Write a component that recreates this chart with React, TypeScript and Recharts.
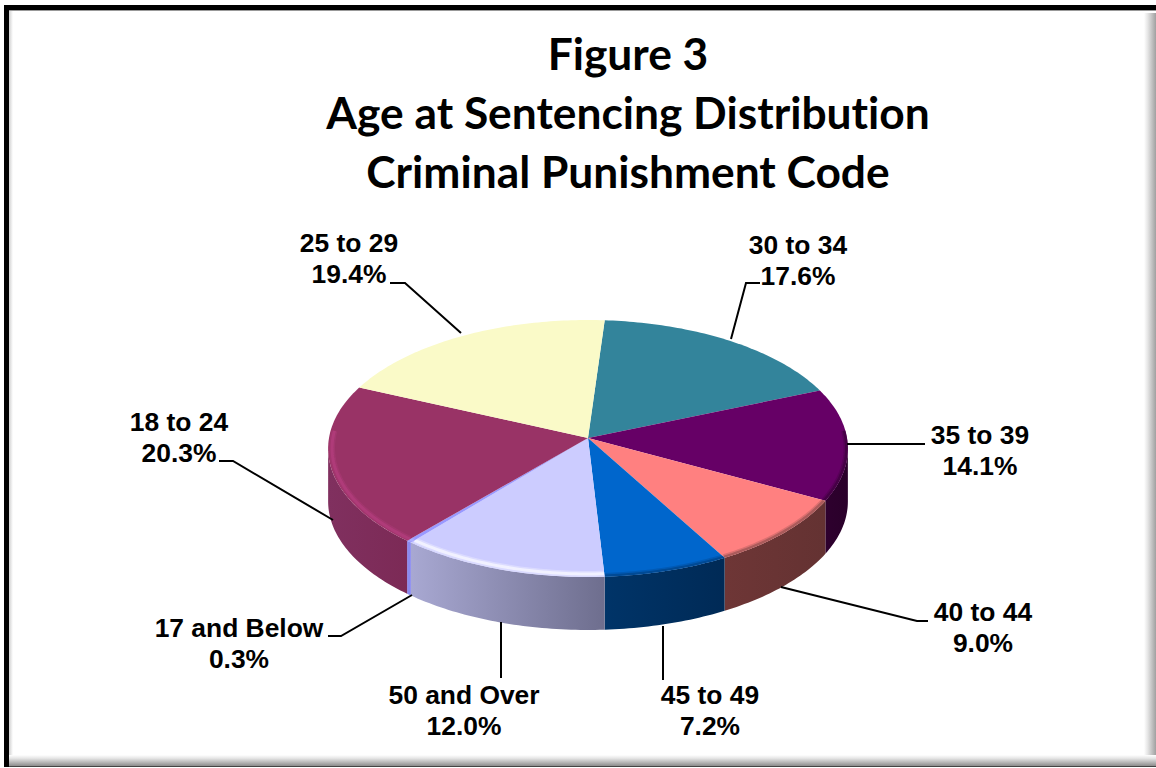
import React from 'react';
import { PieChart, Pie } from 'recharts';

const WIDTH = 1156;
const HEIGHT = 768;

const titleLines = ['Figure 3', 'Age at Sentencing Distribution', 'Criminal Punishment Code'];

// clockwise, starting from the slice just right of the top
const ageGroups = ['30 to 34', '35 to 39', '40 to 44', '45 to 49', '50 and Over', '17 and Below', '18 to 24', '25 to 29'];
const shares = [17.6, 14.1, 9.0, 7.2, 12.0, 0.3, 20.3, 19.4];

const topColors = ['#33849b', '#660066', '#ff8080', '#0066cc', '#ccccff', '#9999ff', '#993366', '#fafac8'];
const rimColors = ['#33849b', '#3a003a', '#8a4c4c', '#003f80', '#ffffff', '#b4b4ff', '#b83f80', '#fafac8'];
const rimRadius = [0.99, 0.995, 0.995, 0.995, 0.98, 0.985, 0.985, 0.99];
const wallLeft = ['#33849b', '#2e002e', '#6e3636', '#003468', '#a8a8d2', '#8a8af0', '#80305f', '#fafac8'];
const wallRight = ['#33849b', '#2a002a', '#643232', '#002a56', '#6e6e8e', '#8a8af0', '#7c2a56', '#fafac8'];

// label centre, then the leader line from the pie outwards
const labelLayout: Record<string, { x: number; y: number; line: number[][] }> = {
  '30 to 34': { x: 798, y: 245, line: [[731, 339], [746, 283], [760, 283]] },
  '35 to 39': { x: 980, y: 435, line: [[847, 444], [925, 444]] },
  '40 to 44': { x: 983, y: 612, line: [[781, 587], [917, 621], [928, 621]] },
  '45 to 49': { x: 710, y: 695, line: [[663, 626], [663, 680]] },
  '50 and Over': { x: 464, y: 695, line: [[501, 622], [501, 678]] },
  '17 and Below': { x: 239, y: 628, line: [[412, 595], [341, 636], [328, 636]] },
  '18 to 24': { x: 179, y: 422, line: [[333, 520], [233, 461], [219, 461]] },
  '25 to 29': { x: 349, y: 243, line: [[390, 283], [405, 283], [461, 333]] },
};

const data = ageGroups.map((name, i) => ({ name, value: shares[i], fill: topColors[i], index: i }));

const TILT = 0.4927;
const PERSPECTIVE = 0.0817;
const DEPTH = 53;
const WALL_FROM = 94.7;
const WALL_TO = 265.3;

// phi is degrees clockwise from the top of the pie
const project = (cx: number, cy: number, R: number, phi: number, r = 1) => {
  const rad = (phi * Math.PI) / 180;
  const u = r * Math.sin(rad);
  const v = -r * Math.cos(rad);
  const d = 1 - PERSPECTIVE * v;
  return [cx + (R * u) / d, cy + (R * TILT * v) / d];
};

const arcPoints = (cx: number, cy: number, R: number, from: number, to: number, r = 1) => {
  const pts: number[][] = [];
  const steps = Math.max(2, Math.ceil(to - from));
  for (let i = 0; i <= steps; i++) pts.push(project(cx, cy, R, from + ((to - from) * i) / steps, r));
  return pts;
};

const toPath = (pts: number[][]) => pts.map((p, i) => `${i ? 'L' : 'M'}${p[0].toFixed(2)},${p[1].toFixed(2)}`).join(' ');

const TiltedSlice = (props: any) => {
  const { cx, cy, outerRadius: R, startAngle, endAngle, index } = props;
  const from = 90 - startAngle;
  const to = 90 - endAngle;
  const top = `${toPath([[cx, cy], ...arcPoints(cx, cy, R, from, to)])} Z`;

  const wFrom = Math.max(from, WALL_FROM);
  const wTo = Math.min(to, WALL_TO);
  const hasWall = wTo > wFrom;
  const edge = hasWall ? arcPoints(cx, cy, R, wFrom, wTo) : [];
  const lower = edge.map(p => [p[0], p[1] + DEPTH]).reverse();

  const rFrom = Math.max(from, WALL_FROM - 8);
  const rTo = Math.min(to, WALL_TO + 8);
  const hasRim = rTo > rFrom;
  const rim = hasRim ? toPath(arcPoints(cx, cy, R, rFrom, rTo, rimRadius[index])) : '';

  return (
    <g>
      <defs>
        <linearGradient id={`wall-${index}`} x1="0" y1="0" x2="1" y2="0">
          <stop offset="0%" stopColor={wallLeft[index]} />
          <stop offset="100%" stopColor={wallRight[index]} />
        </linearGradient>
        <clipPath id={`top-${index}`}>
          <path d={top} />
        </clipPath>
      </defs>
      {hasWall && <path d={`${toPath([...edge, ...lower])} Z`} fill={`url(#wall-${index})`} />}
      <path d={top} fill={topColors[index]} />
      {hasRim && (
        <g clipPath={`url(#top-${index})`} fill="none" stroke={rimColors[index]}>
          <path d={rim} strokeWidth={6} strokeOpacity={0.3} />
          <path d={rim} strokeWidth={3} strokeOpacity={0.6} />
        </g>
      )}
    </g>
  );
};

const labelFont = { fontFamily: "'Liberation Sans', Arial, sans-serif", fontWeight: 700, fontSize: 26.4 };

const SliceLabel = (props: any) => {
  const { name, value } = props;
  const spot = labelLayout[name];
  return (
    <g>
      <polyline points={spot.line.map(p => p.join(',')).join(' ')} fill="none" stroke="#000" strokeWidth={2} />
      <text x={spot.x} y={spot.y} textAnchor="middle" dominantBaseline="central" fill="#000" {...labelFont}>
        {name}
      </text>
      <text x={spot.x} y={spot.y + 31} textAnchor="middle" dominantBaseline="central" fill="#000" {...labelFont}>
        {`${value.toFixed(1)}%`}
      </text>
    </g>
  );
};

const strip = (left: number, top: number, width: number, height: number, background: string): React.CSSProperties => ({
  position: 'absolute',
  left,
  top,
  width,
  height,
  background,
});

export default function App() {
  return (
    <div style={{ position: 'fixed', left: 0, top: 0, width: WIDTH, height: HEIGHT, background: '#fff', overflow: 'hidden' }}>
      {/* frame: black top and left, soft grey bevel right and bottom */}
      <div style={strip(4, 5, 1152, 5, '#000')} />
      <div style={strip(9, 10, 1147, 1, '#999')} />
      <div style={strip(4, 5, 5, 762, '#000')} />
      <div style={strip(9, 11, 4, 745, 'linear-gradient(to right, #d0d0d0, #fff)')} />
      <div style={strip(1144, 13, 12, 753, 'linear-gradient(to right, #fff, #e6e6e6 30%, #a0a0a0)')} />
      <div style={strip(9, 755, 1147, 11, 'linear-gradient(to bottom, #fff, #e6e6e6 30%, #8c8c8c)')} />
      <div style={strip(9, 766, 1147, 1, '#444')} />
      <div style={{ position: 'absolute', left: 0, top: 23, width: WIDTH, textAlign: 'center', fontFamily: 'Lato, sans-serif', fontWeight: 700, fontSize: 44.3, lineHeight: '59px', color: '#000', marginLeft: 50, fontVariantLigatures: 'none' }}>
        {titleLines.map(line => (
          <div key={line}>{line}</div>
        ))}
      </div>
      <div style={{ position: 'absolute', left: 0, top: 0 }}>
        <PieChart width={WIDTH} height={HEIGHT} margin={{ top: 0, right: 0, bottom: 0, left: 0 }}>
          <Pie
            data={data}
            dataKey="value"
            nameKey="name"
            cx={588}
            cy={438}
            outerRadius={259}
            startAngle={86}
            endAngle={-274}
            stroke="none"
            isAnimationActive={false}
            shape={TiltedSlice}
            label={SliceLabel}
            labelLine={false}
          />
        </PieChart>
      </div>
    </div>
  );
}
